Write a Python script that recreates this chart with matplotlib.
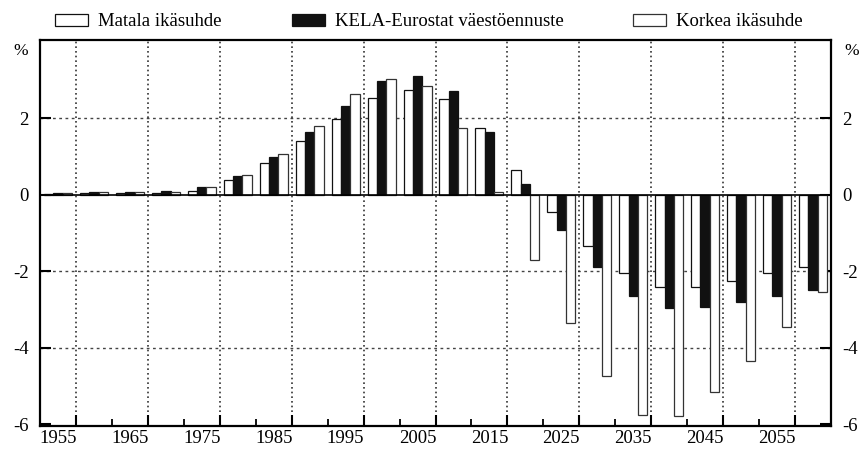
import matplotlib
matplotlib.use("Agg")
import matplotlib.pyplot as plt
import numpy as np

plt.rcParams['font.family'] = ['Liberation Serif', 'DejaVu Serif']
plt.rcParams['axes.unicode_minus'] = False

years = list(range(1955, 2061, 5))
matala = [0.03, 0.05, 0.04, 0.05, 0.11, 0.38, 0.82, 1.40, 1.98, 2.52, 2.75, 2.50, 1.76, 0.65,
          -0.45, -1.35, -2.05, -2.41, -2.42, -2.25, -2.05, -1.90]
kela = [0.05, 0.07, 0.07, 0.10, 0.20, 0.50, 0.99, 1.64, 2.33, 2.97, 3.10, 2.72, 1.63, 0.27,
        -0.93, -1.89, -2.65, -2.97, -2.94, -2.80, -2.64, -2.49]
korkea = [0.05, 0.06, 0.06, 0.08, 0.20, 0.52, 1.06, 1.81, 2.63, 3.03, 2.85, 1.76, 0.06, -1.70,
          -3.35, -4.75, -5.75, -5.78, -5.15, -4.35, -3.45, -2.55]
labels_series = ['Matala ikäsuhde', 'KELA-Eurostat väestöennuste', 'Korkea ikäsuhde']
tick_years = [str(y) for y in years[::2]]
ytick_vals = [-6, -4, -2, 0, 2]

FS = 13.5

fig = plt.figure(figsize=(8.6, 4.51), dpi=100)
ax = fig.add_axes([40/860, 1-426/451, 791/860, 386/451])

x = np.arange(len(years))
w = 0.26
b1 = ax.bar(x - w, matala, w, color='white', edgecolor='#111111', linewidth=0.9, zorder=3, label=labels_series[0])
b2 = ax.bar(x, kela, w, color='#111111', edgecolor='#111111', linewidth=0.9, zorder=3, label=labels_series[1])
b3 = ax.bar(x + w, korkea, w, color='white', edgecolor='#333333', linewidth=0.9, zorder=3, label=labels_series[2])

ax.set_xlim(-0.5, len(years) - 0.5)
ax.set_ylim(-6.05, 4.05)

# zero line
ax.axhline(0, color='black', linewidth=1.2, zorder=4)

# grids
for yv in [2, -2, -4]:
    ax.axhline(yv, color='#444444', linewidth=1.0, linestyle=(0, (2, 2.5)), zorder=1)
grid_x = np.arange(0.5, len(years) - 0.5, 2)
for gx in grid_x:
    ax.axvline(gx, color='#333333', linewidth=1.2, linestyle=(0, (1, 1.8)), zorder=1)

# x labels at group centres
ax.set_xticks(x[::2])
ax.set_xticklabels(tick_years, fontsize=FS)
ax.tick_params(axis='x', which='major', length=0, pad=3)
ax.set_xticks(grid_x, minor=True)
ax.tick_params(axis='x', which='minor', direction='in', length=8, width=1.5, top=False)

sec = ax.secondary_xaxis('bottom')
sec.set_xticks(np.arange(1.5, len(years) - 0.5, 2))
sec.set_xticklabels([])
sec.tick_params(direction='in', length=5, width=1.3)
sec.spines['bottom'].set_visible(False)

ax.set_yticks(ytick_vals)
ax.set_yticklabels([str(v) for v in ytick_vals], fontsize=FS)
ax.tick_params(axis='y', direction='in', length=8, width=1.5, left=True, right=True,
               labelleft=True, labelright=True, pad=8)

for s in ax.spines.values():
    s.set_linewidth(1.6)

ax.annotate('%', xy=(0, 3.75), xycoords=('axes fraction', 'data'), xytext=(-14, 0),
            textcoords='offset points', ha='center', va='center', fontsize=FS - 1)
ax.annotate('%', xy=(1, 3.75), xycoords=('axes fraction', 'data'), xytext=(15, 0),
            textcoords='offset points', ha='center', va='center', fontsize=FS - 1)

# legends
pos = [55/860, 292/860, 633/860]
for h, lab, px in zip([b1, b2, b3], labels_series, pos):
    fig.legend([h], [lab], loc='center left', bbox_to_anchor=(px, 1 - 22/451), frameon=False,
               fontsize=FS, handlelength=1.76, handleheight=0.64, handletextpad=0.55,
               borderpad=0, borderaxespad=0)

fig.savefig('out.png', dpi=100)
